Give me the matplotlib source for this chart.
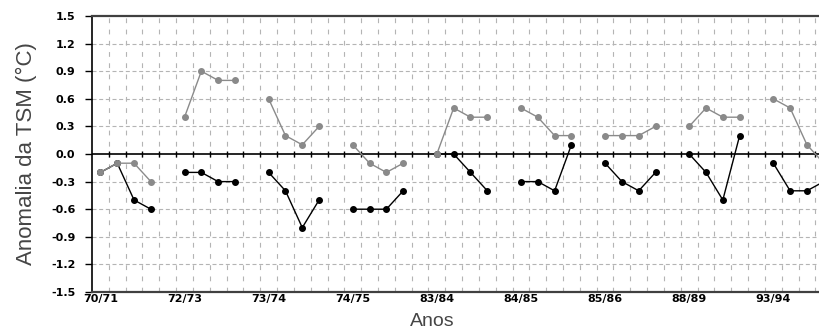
import numpy as np
import matplotlib
matplotlib.use("Agg")
import matplotlib.pyplot as plt

# Episodios ENSO e anomalias sazonais (4 estacoes por episodio)
episodios = ["70/71", "72/73", "73/74", "74/75", "83/84", "84/85", "85/86", "88/89", "93/94"]

serie_cinza = [
    [-0.2, -0.1, -0.1, -0.3],
    [0.4, 0.9, 0.8, 0.8],
    [0.6, 0.2, 0.1, 0.3],
    [0.1, -0.1, -0.2, -0.1],
    [0.0, 0.5, 0.4, 0.4],
    [0.5, 0.4, 0.2, 0.2],
    [0.2, 0.2, 0.2, 0.3],
    [0.3, 0.5, 0.4, 0.4],
    [0.6, 0.5, 0.1, -0.1],
]

serie_preta = [
    [-0.2, -0.1, -0.5, -0.6],
    [-0.2, -0.2, -0.3, -0.3],
    [-0.2, -0.4, -0.8, -0.5],
    [-0.6, -0.6, -0.6, -0.4],
    [0.0, 0.0, -0.2, -0.4],
    [-0.3, -0.3, -0.4, 0.1],
    [-0.1, -0.3, -0.4, -0.2],
    [0.0, -0.2, -0.5, 0.2],
    [-0.1, -0.4, -0.4, -0.3],
]

y_ticks = [1.5, 1.2, 0.9, 0.6, 0.3, 0.0, -0.3, -0.6, -0.9, -1.2, -1.5]

passo = 5  # 4 estacoes + 1 espaco vazio entre episodios


def monta(serie):
    # cada episodio vira um bloco de 5 posicoes; a ultima fica NaN para quebrar a linha
    vals = []
    for ep in serie:
        vals += list(ep) + [np.nan]
    return np.array(vals)


cinza = monta(serie_cinza)
preta = monta(serie_preta)
x = np.arange(len(cinza))
n_cat = len(cinza)

plt.rcParams['font.family'] = ['Liberation Sans', 'DejaVu Sans']

fig = plt.figure(figsize=(8.2, 3.36), dpi=100)
ax = fig.add_axes([92 / 820, 44 / 336, 757 / 820, 276 / 336])

ax.set_xlim(-0.5, n_cat - 0.5)
ax.set_ylim(-1.5, 1.5)

# grade tracejada
grid_c = "#b4b4b4"
for yv in y_ticks:
    if yv in (1.5, -1.5, 0.0):
        continue
    ax.axhline(yv, color=grid_c, lw=0.8, dashes=(3.6, 2.4), zorder=1)
for xv in np.arange(0.5, n_cat, 1.0):
    ax.axvline(xv, color=grid_c, lw=0.8, dashes=(4.3, 5.8), zorder=1)

# linha do zero com marcas entre categorias
ax.axhline(0, color="black", lw=1.2, zorder=2)
ax.vlines(np.arange(0.5, n_cat, 1.0), -0.035, 0.035, color="black", lw=1.0, zorder=2)

ax.plot(x, preta, color="black", lw=1.0, marker="o", ms=4.0, mfc="black", mec="black", zorder=3)
ax.plot(x, cinza, color="#8a8a8a", lw=1.0, marker="o", ms=4.0, mfc="#8a8a8a", mec="#8a8a8a", zorder=4)

tick_font = dict(family="DejaVu Sans", fontsize=8, fontweight="bold")
ax.set_yticks(y_ticks)
ax.set_yticklabels(["%.1f" % v for v in y_ticks], **tick_font)
ax.set_xticks(np.arange(0, n_cat, passo))
ax.set_xticklabels(episodios, **tick_font)
ax.tick_params(axis="y", direction="out", length=5, width=1.0, pad=7)
ax.tick_params(axis="x", length=0, pad=1.5)

for s in ["top", "bottom"]:
    ax.spines[s].set_color("#404040")
    ax.spines[s].set_linewidth(1.6)
ax.spines["left"].set_color("black")
ax.spines["left"].set_linewidth(1.2)
ax.spines["right"].set_visible(False)

ax.set_ylabel("Anomalia da TSM (°C)", fontsize=16, color="#454545", labelpad=10)
fig.text(432 / 820, 1 - 322 / 336, "Anos", fontsize=14, color="#454545", ha="center", va="center")

fig.savefig("out.png", dpi=100)
